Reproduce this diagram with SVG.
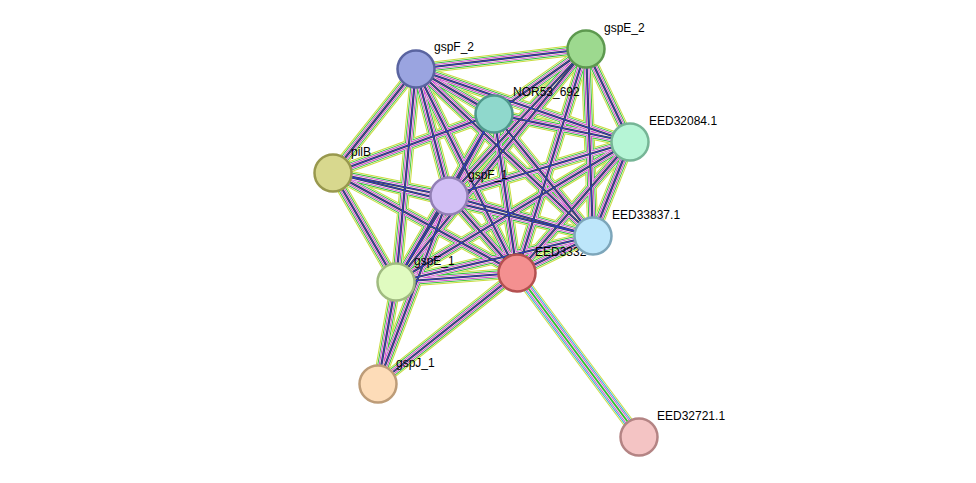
<svg xmlns="http://www.w3.org/2000/svg" xmlns:xlink="http://www.w3.org/1999/xlink" width="976" height="483" viewBox="0 0 976 483">
<style>
.n{stroke-width:2.5}
text{font-family:"Liberation Sans",Arial,sans-serif;font-size:12px;fill:#000}
.a{stroke:#c8dc3c;stroke-width:11;fill:none}
.w1{stroke:#fff;stroke-width:9;fill:none}
.b{stroke:#30c030;stroke-width:8;fill:none}
.w2{stroke:#fff;stroke-width:6.2;fill:none}
.m{stroke:#d040d0;stroke-width:5.2;fill:none}
.w3{stroke:#fff;stroke-width:3.4;fill:none}
.g{stroke:#3a3a3a;stroke-width:2.2;fill:none}
.u{stroke:#3040e8;stroke-width:0.8;fill:none}
.c{stroke:#30b8d0;stroke-width:8;fill:none}
</style>
<defs>
<g id="E">
<path id="e1" d="M416,69L586,49"/><path id="e2" d="M416,69L494,114"/><path id="e3" d="M416,69L630,142"/><path id="e4" d="M416,69L333,173"/><path id="e5" d="M416,69L449,196"/><path id="e6" d="M416,69L593,236"/><path id="e7" d="M416,69L396,282"/><path id="e8" d="M416,69L517,273"/>
<path id="e9" d="M586,49L494,114"/><path id="e10" d="M586,49L630,142"/><path id="e11" d="M586,49L449,196"/><path id="e12" d="M586,49L593,236"/><path id="e13" d="M586,49L517,273"/><path id="e14" d="M586,49L396,282"/>
<path id="e15" d="M494,114L630,142"/><path id="e16" d="M494,114L333,173"/><path id="e17" d="M494,114L449,196"/><path id="e18" d="M494,114L593,236"/><path id="e19" d="M494,114L517,273"/><path id="e20" d="M494,114L396,282"/>
<path id="e21" d="M630,142L449,196"/><path id="e22" d="M630,142L593,236"/><path id="e23" d="M630,142L517,273"/><path id="e24" d="M630,142L396,282"/>
<path id="e25" d="M333,173L449,196"/><path id="e26" d="M333,173L517,273"/><path id="e27" d="M333,173L593,236"/><path id="e28" d="M333,173L396,282"/>
<path id="e29" d="M449,196L593,236"/><path id="e30" d="M449,196L517,273"/><path id="e31" d="M449,196L396,282"/><path id="e32" d="M449,196L378,384"/>
<path id="e33" d="M593,236L517,273"/><path id="e34" d="M593,236L396,282"/><path id="e35" d="M396,282L517,273"/><path id="e36" d="M396,282L378,384"/><path id="e37" d="M517,273L378,384"/>
</g>
<path id="e38" d="M517,273L639,437"/>
</defs>
<g id="connectors">
<use href="#E" class="a"/><use href="#E" class="w1"/><use href="#E" class="b"/><use href="#E" class="w2"/><use href="#E" class="m"/><use href="#E" class="w3"/><use href="#E" class="g"/><use href="#E" class="u"/>
<use href="#e38" class="a"/><use href="#e38" class="w1"/><use href="#e38" class="c"/><use href="#e38" class="w2"/><use href="#e38" class="m"/><use href="#e38" class="w3"/><use href="#e38" class="b" style="stroke-width:2"/>
</g>
<text x="535" y="256">EED3332</text>
<g id="gspF_2"><circle class="n" cx="416" cy="69" r="18.5" fill="#9aa4e0" stroke="#5a64a0"/><text x="434" y="51">gspF_2</text></g>
<g id="gspE_2"><circle class="n" cx="586" cy="49" r="18.5" fill="#9dd98f" stroke="#5d994f"/><text x="604" y="32">gspE_2</text></g>
<g id="NOR53_692"><circle class="n" cx="494" cy="114" r="18.5" fill="#8fd8cc" stroke="#4f988c"/><text x="513" y="96">NOR53_692</text></g>
<g id="EED32084.1"><circle class="n" cx="630" cy="142" r="18.5" fill="#b6f5d6" stroke="#76b596"/><text x="649" y="125">EED32084.1</text></g>
<g id="pilB"><circle class="n" cx="333" cy="173" r="18.5" fill="#d8d88e" stroke="#98984e"/><text x="351" y="156">pilB</text></g>
<g id="gspF_1"><circle class="n" cx="449" cy="196" r="18.5" fill="#d2bff5" stroke="#927fb5"/><text x="468" y="179">gspF_1</text></g>
<g id="EED33837.1"><circle class="n" cx="593" cy="236" r="18.5" fill="#bde6fa" stroke="#7da6ba"/><text x="612" y="219">EED33837.1</text></g>
<g id="EED3332"><circle class="n" cx="517" cy="273" r="18.5" fill="#f49090" stroke="#b45050"/></g>
<g id="gspE_1"><circle class="n" cx="396" cy="282" r="18.5" fill="#e0fbc0" stroke="#a0bb80"/><text x="414" y="265">gspE_1</text></g>
<g id="gspJ_1"><circle class="n" cx="378" cy="384" r="18.5" fill="#fddcb8" stroke="#bd9c78"/><text x="396" y="367">gspJ_1</text></g>
<g id="EED32721.1"><circle class="n" cx="639" cy="437" r="18.5" fill="#f4c4c4" stroke="#b48484"/><text x="657" y="420">EED32721.1</text></g>
</svg>
